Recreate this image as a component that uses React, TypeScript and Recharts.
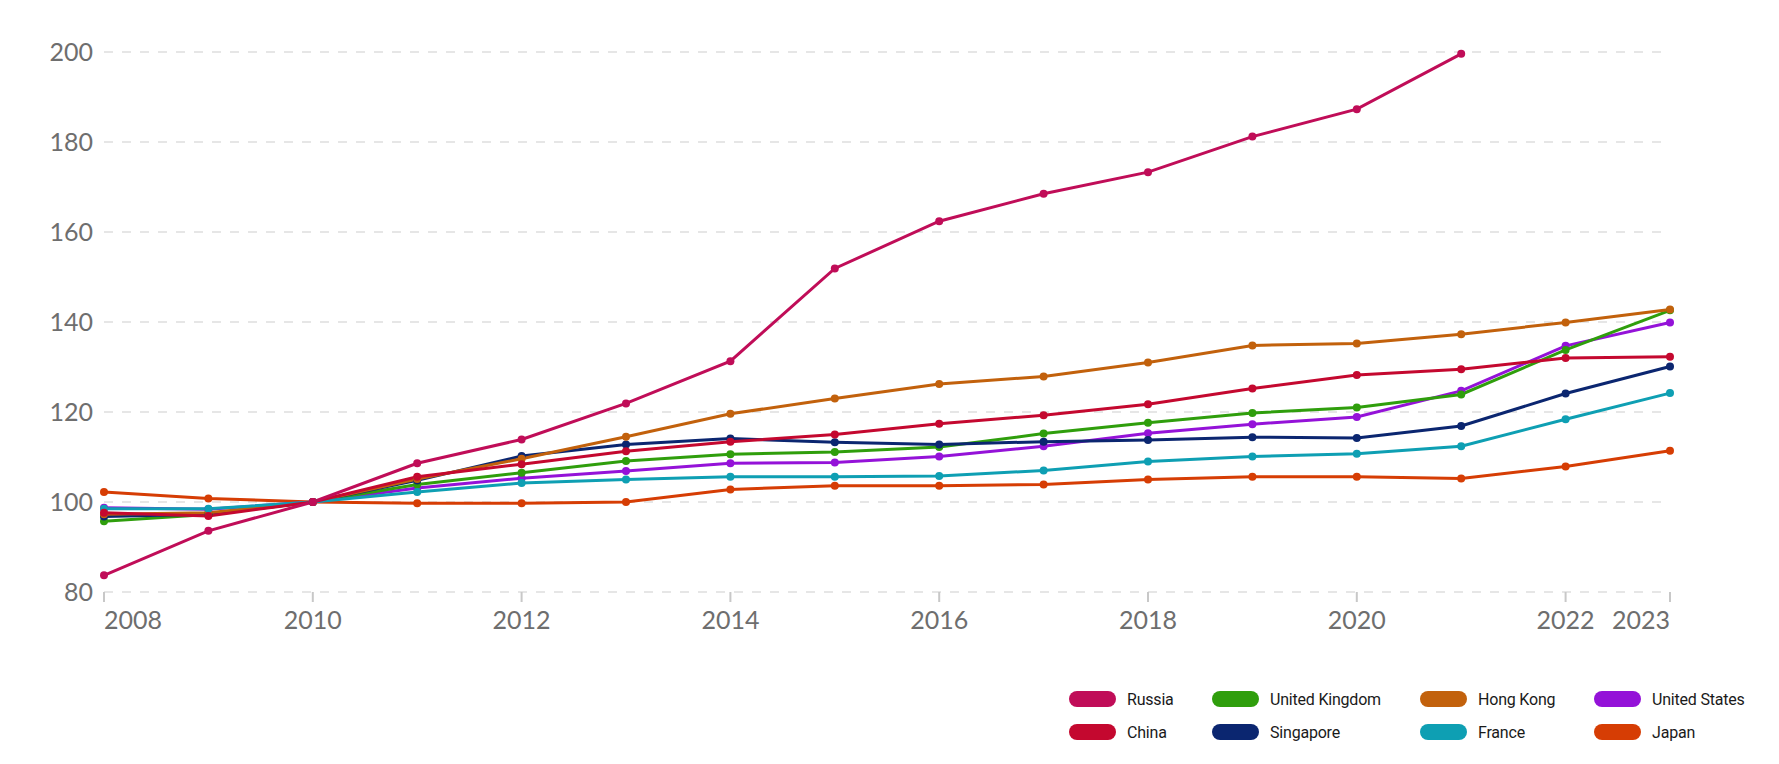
import { LineChart, Line, XAxis, YAxis, CartesianGrid } from 'recharts';

const years = [2008, 2009, 2010, 2011, 2012, 2013, 2014, 2015, 2016, 2017, 2018, 2019, 2020, 2021, 2022, 2023];

const russia = [83.7, 93.6, 100, 108.6, 113.9, 121.9, 131.3, 151.9, 162.4, 168.5, 173.3, 181.2, 187.3, 199.6, null, null];
const china = [97.6, 96.9, 100, 105.6, 108.4, 111.3, 113.4, 115.0, 117.4, 119.3, 121.7, 125.2, 128.2, 129.5, 132.0, 132.3];
const unitedKingdom = [95.7, 97.2, 100, 103.9, 106.5, 109.1, 110.6, 111.1, 112.2, 115.2, 117.6, 119.8, 121.0, 123.9, 133.8, 142.6];
const singapore = [96.8, 97.3, 100, 104.8, 110.2, 112.8, 114.1, 113.3, 112.8, 113.4, 113.8, 114.4, 114.2, 116.9, 124.1, 130.1];
const hongKong = [97.3, 97.6, 100, 105.1, 109.6, 114.5, 119.6, 123.0, 126.2, 127.9, 131.0, 134.8, 135.2, 137.3, 139.9, 142.8];
const france = [98.5, 98.5, 100, 102.2, 104.2, 105.0, 105.6, 105.6, 105.8, 107.0, 109.0, 110.1, 110.7, 112.4, 118.4, 124.2];
const unitedStates = [98.7, 98.4, 100, 103.1, 105.3, 106.9, 108.6, 108.8, 110.1, 112.4, 115.3, 117.3, 118.9, 124.7, 134.7, 139.9];
const japan = [102.2, 100.8, 100, 99.7, 99.7, 100.0, 102.8, 103.6, 103.6, 103.9, 105.0, 105.6, 105.6, 105.2, 107.9, 111.4];

const yTicks = [80, 100, 120, 140, 160, 180, 200];
const xTicks = [2008, 2010, 2012, 2014, 2016, 2018, 2020, 2022, 2023];

// draw order (last on top)
const series = [
  { key: 'japan', name: 'Japan', color: '#d63d04', values: japan },
  { key: 'us', name: 'United States', color: '#9412d8', values: unitedStates },
  { key: 'uk', name: 'United Kingdom', color: '#2f9e0c', values: unitedKingdom },
  { key: 'sg', name: 'Singapore', color: '#0b2670', values: singapore },
  { key: 'hk', name: 'Hong Kong', color: '#c2610c', values: hongKong },
  { key: 'france', name: 'France', color: '#0e9fb3', values: france },
  { key: 'china', name: 'China', color: '#c4082f', values: china },
  { key: 'russia', name: 'Russia', color: '#c00d58', values: russia },
];

const legendOrder = ['russia', 'uk', 'hk', 'us', 'china', 'sg', 'france', 'japan'];

const data = years.map((year, i) => {
  const row: any = { year };
  series.forEach((s) => {
    row[s.key] = s.values[i];
  });
  return row;
});

const XTick = ({ x, y, payload }: any) => {
  const v = payload.value;
  const anchor = v === 2008 ? 'start' : v === 2023 ? 'end' : 'middle';
  return (
    <text x={x} y={y} dy="0.71em" textAnchor={anchor} fill="#6e6e6e" fontSize={25} fontFamily="Lato, sans-serif">
      {v}
    </text>
  );
};

export default function App() {
  return (
    <div style={{ position: 'relative', width: 1779, height: 764, background: '#fff' }}>
      <style>{`body{margin:0;}`}</style>
      <LineChart width={1779} height={764} data={data} margin={{ top: 52, right: 109, bottom: 132, left: 0 }}>
        <CartesianGrid vertical={false} stroke="#e6e6e6" strokeWidth={2} strokeDasharray="9 9" />
        <XAxis
          dataKey="year"
          type="number"
          domain={[2008, 2023]}
          ticks={xTicks}
          axisLine={false}
          tickLine={{ stroke: '#c8c8c8', strokeWidth: 2 }}
          tickSize={10}
          tickMargin={9}
          height={40}
          tick={<XTick />}
        />
        <YAxis
          domain={[80, 200]}
          ticks={yTicks}
          axisLine={false}
          tickLine={false}
          tickSize={0}
          tickMargin={11}
          width={104}
          tick={{ fill: '#6e6e6e', fontSize: 25, fontFamily: 'Lato, sans-serif' }}
        />
        {series.map((s) => (
          <Line
            key={s.key}
            dataKey={s.key}
            name={s.name}
            type="linear"
            stroke={s.color}
            strokeWidth={3}
            dot={{ r: 4, fill: s.color, stroke: s.color, strokeWidth: 0 }}
            activeDot={false}
            isAnimationActive={false}
          />
        ))}
      </LineChart>
      <div
        style={{
          position: 'absolute',
          left: 1069,
          top: 690,
          display: 'grid',
          gridTemplateColumns: '143px 208px 174px auto',
          rowGap: 15,
          fontFamily: 'Roboto, sans-serif',
          fontSize: 16,
          color: '#1a1a1a',
        }}
      >
        {legendOrder.map((k) => {
          const s = series.find((x) => x.key === k)!;
          return (
            <div key={k} style={{ display: 'flex', alignItems: 'center', height: 18 }}>
              <span style={{ display: 'inline-block', width: 47, height: 16, borderRadius: 8, background: s.color, marginRight: 11 }} />
              <span style={{ letterSpacing: -0.2 }}>{s.name}</span>
            </div>
          );
        })}
      </div>
    </div>
  );
}
